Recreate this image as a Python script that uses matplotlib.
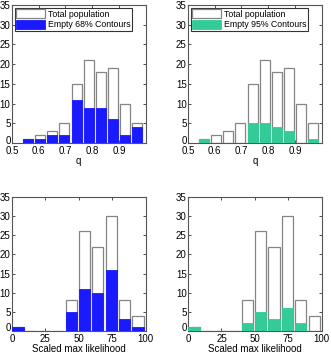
import matplotlib.pyplot as plt
import matplotlib.transforms as mtransforms
import numpy as np

plt.rcParams['font.family'] = ['Liberation Sans', 'DejaVu Sans']

# histogram bin centres
q_centers = [0.560, 0.605, 0.651, 0.696, 0.742, 0.787, 0.833, 0.878, 0.923, 0.969]
lik_centers = [4.5, 14.4, 24.4, 34.3, 44.5, 54.4, 64.3, 74.4, 84.3, 94.3]

# counts
q_total = [1, 2, 3, 5, 15, 21, 18, 19, 10, 5]
q_empty68 = [1, 1, 2, 2, 11, 9, 9, 6, 2, 4]
q_empty95 = [1, 0, 0, 0, 5, 5, 4, 3, 0, 1]

lik_total = [1, 0, 0, 0, 8, 26, 22, 30, 8, 4]
lik_empty68 = [1, 0, 0, 0, 5, 11, 10, 16, 3, 1]
lik_empty95 = [1, 0, 0, 0, 2, 5, 3, 6, 2, 0]

blue = '#1a1aff'
green = '#33cc99'
grey = '#858585'

fig = plt.figure(figsize=(3.31, 3.55), dpi=100)

W = 0.404
axes = [
    fig.add_axes([0.036, 0.597, W, 0.389]),
    fig.add_axes([0.568, 0.597, W, 0.389]),
    fig.add_axes([0.036, 0.068, W, 0.377]),
    fig.add_axes([0.568, 0.068, W, 0.377]),
]

panels = [
    (q_centers, q_total, q_empty68, blue, 'Empty 68% Contours', 0.045, 'q'),
    (q_centers, q_total, q_empty95, green, 'Empty 95% Contours', 0.045, 'q'),
    (lik_centers, lik_total, lik_empty68, blue, None, 9.95, 'Scaled max likelihood'),
    (lik_centers, lik_total, lik_empty95, green, None, 9.95, 'Scaled max likelihood'),
]

for ax, (x, tot, emp, col, lab, binw, xl) in zip(axes, panels):
    ax.bar(x, tot, width=0.84 * binw, color='white', edgecolor=grey,
           linewidth=0.9, label='Total population', zorder=2)
    ax.bar(x, emp, width=0.84 * binw, color=col, edgecolor=col,
           linewidth=0.6, label=lab, zorder=3)
    ax.set_ylim(0, 35)
    ax.set_yticks(np.arange(0, 36, 5))
    if xl == 'q':
        ax.set_xlim(0.5, 1.0)
        ax.set_xticks([0.5, 0.6, 0.7, 0.8, 0.9])
        ax.set_xticklabels(['0.5', '0.6', '0.7', '0.8', '0.9'])
        leg = ax.legend(loc='upper left', fontsize=6.3, frameon=True, fancybox=False,
                        handlelength=3.3, handleheight=1.1, handletextpad=0.3,
                        borderpad=0.2, labelspacing=0.2, borderaxespad=0.3)
        leg.get_frame().set_edgecolor('black')
        leg.get_frame().set_linewidth(0.8)
    else:
        ax.set_xlim(0, 100)
        ax.set_xticks([0, 25, 50, 75, 100])
    ax.set_xlabel(xl, fontsize=7, labelpad=0)
    ax.tick_params(labelsize=7, direction='in', length=2, width=0.6,
                   top=True, right=True, pad=1, colors='#333333', labelcolor='black')
    ax.tick_params(axis='x', pad=2)
    for s in ax.spines.values():
        s.set_color('#555555')
        s.set_linewidth(0.8)
    # nudge the "0" label up a little so it clears the x tick labels
    zero = ax.get_yticklabels()[0]
    zero.set_transform(zero.get_transform() +
                       mtransforms.ScaledTranslation(0, 2.5 / 72, fig.dpi_scale_trans))

plt.savefig('out.png', dpi=100)
